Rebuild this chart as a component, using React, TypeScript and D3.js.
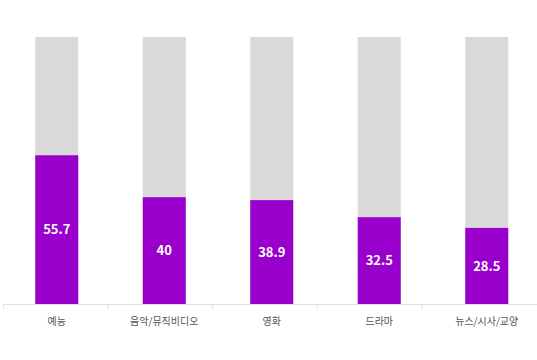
import React, { useEffect, useRef } from "react";
import * as d3 from "d3";

const categories = ["예능", "음악/뮤직비디오", "영화", "드라마", "뉴스/시사/교양"];
const values = [55.7, 40, 38.9, 32.5, 28.5];
const maxValue = 100;

const App = () => {
  const ref = useRef<SVGGElement>(null);

  const width = 537;
  const height = 360;
  const margin = { top: 37, right: 0, bottom: 56, left: 3 };
  const innerW = width - margin.left - margin.right;
  const innerH = height - margin.top - margin.bottom;

  useEffect(() => {
    if (!ref.current) return;
    ref.current.innerHTML = "";
    const g = d3.select(ref.current).attr("transform", `translate(${margin.left},${margin.top})`);

    const x = d3.scaleBand<string>().domain(categories).range([0, 537.5]).paddingInner(0.6).paddingOuter(0.3);
    // category ticks sit on a slightly narrower grid
    const xt = d3.scaleBand<string>().domain(categories).range([0, 523]);
    const y = d3.scaleLinear().domain([0, maxValue]).range([innerH, 0]);

    const data = categories.map((c, i) => ({ c, v: values[i] }));

    // background (100%) bars
    g.selectAll(".bg")
      .data(data)
      .enter()
      .append("rect")
      .attr("x", (d) => x(d.c)!)
      .attr("y", y(maxValue))
      .attr("width", x.bandwidth())
      .attr("height", innerH - y(maxValue))
      .attr("fill", "#d9d9d9");

    g.selectAll(".bar")
      .data(data)
      .enter()
      .append("rect")
      .attr("x", (d) => x(d.c)!)
      .attr("y", (d) => y(d.v))
      .attr("width", x.bandwidth())
      .attr("height", (d) => innerH - y(d.v))
      .attr("fill", "#9900cc");

    g.selectAll(".val")
      .data(data)
      .enter()
      .append("text")
      .attr("x", (d) => x(d.c)! + x.bandwidth() / 2)
      .attr("y", (d) => (y(d.v) + innerH) / 2)
      .attr("dy", "0.35em")
      .attr("text-anchor", "middle")
      .attr("fill", "#fff")
      .attr("font-family", "'Noto Sans CJK KR', 'Noto Sans', sans-serif")
      .attr("font-weight", "bold")
      .attr("font-size", 13)
      .text((d) => String(d.v));

    // axis line and ticks
    g.append("line")
      .attr("x1", 0)
      .attr("x2", innerW)
      .attr("y1", innerH + 0.5)
      .attr("y2", innerH + 0.5)
      .attr("stroke", "#e0e0e0");

    g.selectAll(".tick")
      .data(categories)
      .enter()
      .append("line")
      .attr("x1", (d) => xt(d)! + 0.5)
      .attr("x2", (d) => xt(d)! + 0.5)
      .attr("y1", innerH)
      .attr("y2", innerH + 5)
      .attr("stroke", "#e0e0e0");

    g.selectAll(".lbl")
      .data(categories)
      .enter()
      .append("text")
      .attr("x", (d) => x(d)! + x.bandwidth() / 2)
      .attr("y", innerH + 21)
      .attr("text-anchor", "middle")
      .attr("fill", "#555")
      .attr("font-family", "'Noto Sans CJK KR', 'Noto Sans', sans-serif")
      .attr("font-size", 10)
      .text((d) => d);
  }, []);

  return (
    <svg width={width} height={height} style={{ position: "absolute", left: 0, top: 0 }}>
      <g ref={ref} />
    </svg>
  );
};

export default App;
